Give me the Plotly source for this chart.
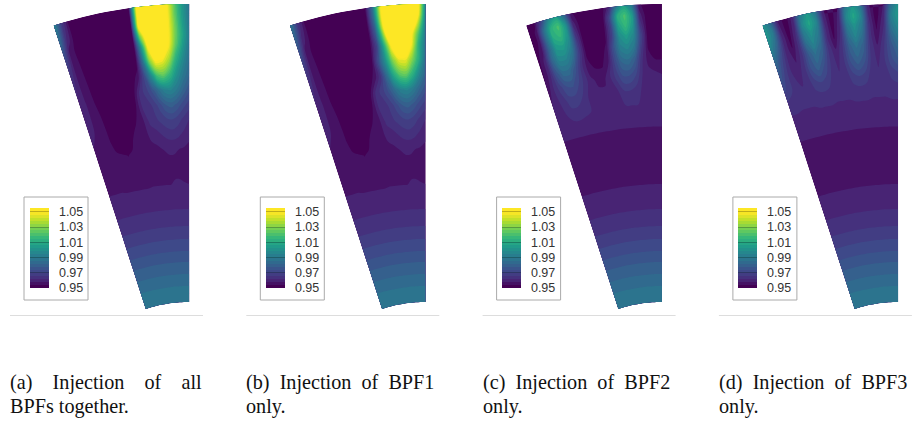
import numpy as np
import plotly.graph_objects as go
from plotly.colors import sequential

ANGLE_DEG = [-18,-17,-16,-15,-14,-13,-12,-11,-10,-9,-8,-7,-6,-5,-4,-3,-2,-1,0]
TIP_RADIUS = 439
DEPTH = [0,10,20,30,40,55,70,85,100,115,130,145,160,175,190,205,222,235,247,258,270,282,298]

# values in thousandths; rows follow DEPTH, columns ANGLE_DEG
HUB_ROWS = [
 [960,960,960,960,960,960,960,960,960,960,960,960,960,960,960,960,960,960,960],
 [962,962,962,962,962,962,962,962,962,962,962,962,962,962,962,962,962,962,962],
 [966,966,966,966,966,966,966,966,966,966,966,966,966,966,966,966,966,966,966],
 [970,970,970,970,970,970,970,970,970,970,970,970,970,970,970,970,970,970,970],
 [974,974,974,974,974,974,974,974,974,974,974,974,974,974,974,974,974,974,974],
 [978,978,978,978,978,978,978,978,978,978,978,978,978,978,978,978,978,978,978],
 [982,982,982,982,982,982,982,982,982,982,982,982,982,982,982,982,982,982,982],
 [986,986,986,986,986,986,986,986,986,986,986,986,986,986,986,986,986,986,986],
 [990,990,990,990,990,990,990,990,990,990,990,990,990,990,990,990,990,990,990],
]
ROWS_A = [
 [995,968,952,951,951,951,951,951,951,951,951,1048,1090,1100,1090,1052,1025,1003,988],
 [990,965,953,951,951,951,951,951,951,951,951,1050,1095,1110,1095,1052,1026,1004,988],
 [985,962,953,951,951,951,951,951,951,951,952,1050,1092,1110,1095,1052,1028,1006,989],
 [978,956.1,953.1,951,951,951,951,951,951,951,952,1025,1065,1095,1090,1052,1028,1008,990],
 [972,956.4,953.4,951,951,951,951,951,951,951,951,1000,1052,1080,1080,1050,1025,1005,988],
 [966,957,954,951,951,951,951,951,951,951,952,985,1030,1052,1048,1035,1012,997,985],
 [963,957.6,954.6,951.6,951,951,951,951,951,951.5,956,972,995,1020,1025,1015,1000,990,982],
 [961,958.2,955.2,952.2,951,951,951,951,951,953,964,968,975,985,993,995,990,982,975],
 [960,958.2,956.4,953.4,951,951,951,951,951.5,954,962,964,967,972,978,980,977,972,968],
 [959,958,957,954.3,951.3,951,951,951,952.8,955,958,963,965,967,969,970,968,965,962],
 [958,957.5,957,955.2,952.2,951,951,952.7,955.2,956,957,959,960,962,963.5,964,963,961,959],
 [957,957,956.5,956,955,954.5,953.9,954.5,955,955.5,956,956.5,957,958,958.5,958.5,958,957.5,957],
 [956,956,956,956,955.5,955,955,955,955.5,955.5,955.5,956,956,956.5,957,957,957,957,956.5],
 [957,957,957,957,956.5,956.5,956.5,956.5,956.5,956.5,957,957,957,957,957,958,958,957.5,957],
]
ROWS_B = [
 [990,966,952,951,951,951,951,951,951,951,952,985,1045,1090,1110,1110,1085,1056,995],
 [986,963,953,951,951,951,951,951,951,951,952,985,1045,1090,1115,1115,1085,1052,994],
 [981,960,953,951,951,951,951,951,951,951,952,980,1040,1090,1110,1110,1075,1035,992],
 [977,956.1,953.1,951,951,951,951,951,951,951,951,975,1025,1075,1095,1090,1052,1020,990],
 [972,956.4,953.4,951,951,951,951,951,951,951,952,970,1010,1050,1072,1070,1048,1012,988],
 [967,957,954,951,951,951,951,951,951,951,953.7,975,1000,1028,1045,1047,1030,1010,985],
 [964,957.6,954.6,951.6,951,951,951,951,951,951.5,955,965,985,1008,1022,1025,1012,995,982],
 [962,958.2,955.2,952.2,951,951,951,951,951,953,964,968,975,985,993,995,990,982,975],
 [960,958.2,956.4,953.4,951,951,951,951,951.5,954,962,964,967,972,978,980,977,972,968],
 [959,958,957,954.3,951.3,951,951,951,952.8,955,958,963,965,967,969,970,968,965,962],
 [958,957.5,957,955.2,952.2,951,951,952.7,955.2,956,957,959,960,962,963.5,964,963,961,959],
 [957,957,956.5,956,955,954.5,953.9,954.5,955,955.5,956,956.5,957,958,958.5,958.5,958,957.5,957],
 [956,956,956,956,955.5,955,955,955,955.5,955.5,955.5,956,956,956.5,957,957,957,957,956.5],
 [957,957,957,957,956.5,956.5,956.5,956.5,956.5,956.5,957,957,957,957,957,958,958,957.5,957],
]
ROWS_C = [
 [951,953,970,995,1005,985,955,951,951,951,951,960,990,1005,990,955,951,951,951],
 [951,955,985,1012,1020,1000,960,951,951,951,951,972,1010,1020,1003,960,951,951,951],
 [951,955,985,1010,1015,1000,965,951,951,951,952,970,1005,1016,1002,965,951,951,951],
 [951,957,982,1003,1005,995,968,952,951,951,953,970,998,1005,996,970,952,951,951],
 [952,960,983,997,997,988,968,953,951,951,955,975,993,997,990,968,953,951,951],
 [953,960,975,985,985,975,963,955,953,953,958,972,983,985,978,963,956,954,954],
 [955,962,968,974,975,970,964,959,957,957,962,968,974,974,970,962,960,959,958],
 [958,961,964,968,968,966,962,960,959,959,960,962,966,966,964,961,960,960,960],
 [959,960,962,964,964,963,962,961,960,960,960,961,962,962,962,961,960,960,960],
 [959,959,959,959,959,959,959,959,959,959,959,959,959,959,959,959,959,959,959],
 [957,957,957,957,957,957,957,957,957,957,957,957,957,957,957,957,957,957,957],
 [956,956,956,956,956,956,956,956,956,956,956,956,956,956,956,956,956,956,956],
 [956,956,956,956,956,956,956,956,956,956,956,956,956,956,956,956,956,956,956],
 [957,957,957,957,957,957,957,957,957,957,957,957,957,957,957,957,957,957,957],
]
ROWS_D = [
 [1000,985,958,951,960,990,1003,990,960,951,958,990,1003,990,960,951,958,985,1000],
 [1003,990,960,951,962,995,1008,995,962,951,960,995,1008,995,962,951,960,992,1003],
 [1000,985,962,952,964,990,1000,990,963,952,962,990,1000,990,964,953,962,988,998],
 [992,978,961,954,964,985,995,985,963,954,964,985,995,985,964,955,964,982,992],
 [985,972,961,957,964,978,987,980,965,958,966,980,987,980,965,958,966,977,985],
 [978,968,962,960,965,975,980,973,965,961,966,975,980,975,965,961,966,973,978],
 [971,967,964,962,964,968,970,968,964,963,964,968,970,968,964,963,964,967,969],
 [964,964,963,963,963,964,964,964,963,963,963,964,964,964,963,963,963,964,964],
 [961,961,961,961,961,961,961,961,961,961,961,961,961,961,961,961,961,961,961],
 [959,959,959,959,959,959,959,959,959,959,959,959,959,959,959,959,959,959,959],
 [957,957,957,957,957,957,957,957,957,957,957,957,957,957,957,957,957,957,957],
 [956,956,956,956,956,956,956,956,956,956,956,956,956,956,956,956,956,956,956],
 [956,956,956,956,956,956,956,956,956,956,956,956,956,956,956,956,956,956,956],
 [957,957,957,957,957,957,957,957,957,957,957,957,957,957,957,957,957,957,957],
]
PANELS = [ROWS_A, ROWS_B, ROWS_C, ROWS_D]
CAPTION_1 = ["(a)    Injection    of    all", "(b)  Injection  of  BPF1", "(c)  Injection  of  BPF2", "(d)  Injection  of  BPF3"]
CAPTION_2 = ["BPFs together.", "only.", "only.", "only."]
TICK_VALUES = [0.95, 0.97, 0.99, 1.01, 1.03, 1.05]
TICK_LABELS = ["0.95", "0.97", "0.99", "1.01", "1.03", "1.05"]

W, H = 913, 423
STEP = 236.3
ZMIN, ZMAX, ZTOP = 0.95, 1.05, 1.055
# Viridis over ZMIN..ZMAX, held at its last colour up to ZTOP; lowest band stays at the darkest colour
stops = sequential.Viridis
frac = (ZMAX - ZMIN) / (ZTOP - ZMIN)
colorscale = [[k / (len(stops) - 1) * frac, c] for k, c in enumerate(stops)] + [[1.0, stops[-1]]]
colorscale.insert(1, [0.02, stops[0]])

fig = go.Figure()
theta = np.radians(ANGLE_DEG)
depth = np.array(DEPTH, float)
radius = TIP_RADIUS - depth
gx = np.outer(radius, np.sin(theta))
gy = np.outer(radius, np.cos(theta))
layout = {}
shapes = []
ann = []
for i, rows in enumerate(PANELS):
    n = "" if i == 0 else str(i + 1)
    z = np.array(rows + HUB_ROWS, float) / 1000
    px0 = 4.3 + STEP * i
    layout["xaxis" + n] = dict(domain=[px0 / W, (px0 + 199) / W], range=[-185, 14], visible=False, fixedrange=True)
    layout["yaxis" + n] = dict(domain=[0, 1], range=[20, 443], visible=False, fixedrange=True)
    fig.add_trace(go.Carpet(
        carpet=f"c{i}", a=ANGLE_DEG, b=DEPTH, x=gx, y=gy, xaxis="x" + n, yaxis="y" + n,
        aaxis=dict(showgrid=False, showticklabels="none", startline=False, endline=False, minorgridcount=0, linewidth=0, smoothing=0),
        baxis=dict(showgrid=False, showticklabels="none", startline=False, endline=False, minorgridcount=0, linewidth=0, smoothing=0),
    ))
    fig.add_trace(go.Contourcarpet(
        carpet=f"c{i}", a=ANGLE_DEG, b=DEPTH, z=z, xaxis="x" + n, yaxis="y" + n,
        colorscale=colorscale, zmin=ZMIN, zmax=ZTOP, autocontour=False,
        contours=dict(start=ZMIN, end=ZTOP, size=0.004, coloring="fill"),
        line=dict(width=0),
        colorbar=dict(
            x=(29.5 + STEP * i) / W, xanchor="left", xpad=0, y=(H - 288) / H, yanchor="bottom", ypad=0,
            lenmode="pixels", len=80, thicknessmode="pixels", thickness=19, outlinewidth=0,
            tickmode="array", tickvals=TICK_VALUES, ticktext=["  " + t for t in TICK_LABELS],
            ticks="inside", ticklen=19, tickwidth=1, tickcolor="rgba(0,0,0,0.25)",
            tickfont=dict(family="Liberation Sans", size=12.5, color="#333333"),
        ),
    ))
    bx = 24 + STEP * i
    shapes.append(dict(type="rect", xref="paper", yref="paper", x0=bx / W, x1=(bx + 64) / W,
                       y0=(H - 300) / H, y1=(H - 197) / H, line=dict(color="#aaaaaa", width=1), fillcolor="rgba(0,0,0,0)"))
    lx = 10 + STEP * i
    shapes.append(dict(type="line", xref="paper", yref="paper", x0=lx / W, x1=(lx + 193) / W,
                       y0=(H - 315.5) / H, y1=(H - 315.5) / H, line=dict(color="#dddddd", width=1)))
    for txt, py in ((CAPTION_1[i], 382), (CAPTION_2[i], 406)):
        ann.append(dict(text=txt, xref="paper", yref="paper", x=(lx - 2) / W, y=(H - py) / H, xanchor="left", yanchor="middle",
                        showarrow=False, align="left", font=dict(family="Liberation Serif", size=20.2, color="#111111")))

fig.update_layout(width=W, height=H, margin=dict(l=0, r=0, t=0, b=0), paper_bgcolor="white", plot_bgcolor="white",
                  showlegend=False, shapes=shapes, annotations=ann, **layout)
fig.write_html("out.html", config={"displayModeBar": False},
               post_script="document.body.style.margin='0';document.body.style.overflow='hidden';")
